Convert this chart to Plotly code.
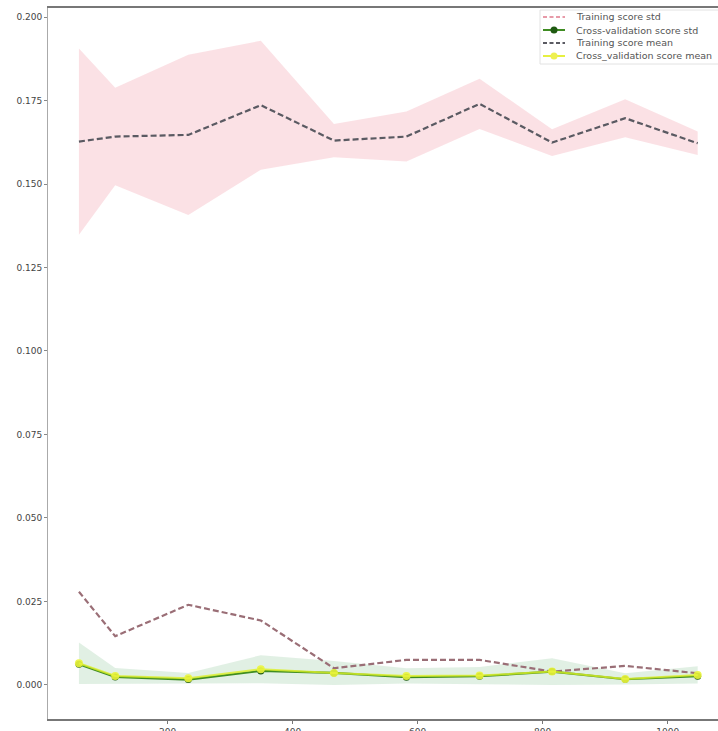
import plotly.graph_objects as go

# Data
train_sizes = [58, 116, 233, 349, 466, 582, 699, 815, 932, 1048]
train_mean = [0.1627, 0.1642, 0.1647, 0.1736, 0.1630, 0.1642, 0.1740, 0.1624, 0.1697, 0.1622]
train_std = [0.0279, 0.0146, 0.0240, 0.0193, 0.0050, 0.0075, 0.0075, 0.0040, 0.0057, 0.0035]
cv_mean = [0.0065, 0.0027, 0.0020, 0.0047, 0.0036, 0.0027, 0.0028, 0.0040, 0.0018, 0.0030]
cv_std = [0.0062, 0.0024, 0.0016, 0.0042, 0.0036, 0.0023, 0.0026, 0.0040, 0.0017, 0.0026]

y_ticks = [0.0, 0.025, 0.05, 0.075, 0.1, 0.125, 0.15, 0.175, 0.2]
x_ticks = [200, 400, 600, 800, 1000]

legend_labels = ["Training score std", "Cross-validation score std",
                 "Training score mean", "Cross_validation score mean"]

train_hi = [m + s for m, s in zip(train_mean, train_std)]
train_lo = [m - s for m, s in zip(train_mean, train_std)]
cv_hi = [m + s for m, s in zip(cv_mean, cv_std)]
cv_lo = [m - s for m, s in zip(cv_mean, cv_std)]

C_STD = "#9a6e76"
C_STD_LEG = "#e79aa8"
C_CVSTD = "#3f8c22"
C_CVSTD_M = "#1f5a12"
C_MEAN = "#5a5a62"
C_CVMEAN = "rgba(220,240,40,0.8)"
C_CVMEAN_M = "rgba(235,245,60,0.9)"
DASH = "6px,3px"

fig = go.Figure()

# Bands
fig.add_trace(go.Scatter(x=train_sizes, y=train_hi, mode="lines", line=dict(width=0),
                         showlegend=False, hoverinfo="skip"))
fig.add_trace(go.Scatter(x=train_sizes, y=train_lo, mode="lines", line=dict(width=0),
                         fill="tonexty", fillcolor="rgba(248,200,208,0.55)",
                         showlegend=False, hoverinfo="skip"))
fig.add_trace(go.Scatter(x=train_sizes, y=cv_hi, mode="lines", line=dict(width=0),
                         showlegend=False, hoverinfo="skip"))
fig.add_trace(go.Scatter(x=train_sizes, y=cv_lo, mode="lines", line=dict(width=0),
                         fill="tonexty", fillcolor="rgba(200,228,205,0.55)",
                         showlegend=False, hoverinfo="skip"))

# Lines
fig.add_trace(go.Scatter(x=train_sizes, y=train_std, mode="lines", name=legend_labels[0],
                         showlegend=False,
                         line=dict(color=C_STD, width=2.2, dash=DASH)))
fig.add_trace(go.Scatter(x=train_sizes, y=cv_std, mode="lines+markers", name=legend_labels[1],
                         showlegend=False,
                         line=dict(color=C_CVSTD, width=2.2),
                         marker=dict(color=C_CVSTD_M, size=7)))
fig.add_trace(go.Scatter(x=train_sizes, y=train_mean, mode="lines", name=legend_labels[2],
                         showlegend=False,
                         line=dict(color=C_MEAN, width=2.2, dash=DASH)))
fig.add_trace(go.Scatter(x=train_sizes, y=cv_mean, mode="lines+markers", name=legend_labels[3],
                         showlegend=False,
                         line=dict(color=C_CVMEAN, width=2),
                         marker=dict(color=C_CVMEAN_M, size=8)))

# Compact legend (matplotlib style) built from shapes + text
L, T, W, H = 48, 8, 670, 711
def px_x(p):
    return (p - L) / W
def px_y(p):
    return (T + H - p) / H

shapes = [dict(type="rect", xref="paper", yref="paper",
               x0=px_x(540), x1=px_x(760), y0=px_y(64), y1=px_y(10),
               line=dict(color="#e2e2e2", width=1), fillcolor="rgba(255,255,255,0.92)")]
annotations = []
leg_styles = [(C_STD_LEG, "dash", None), (C_CVSTD, "solid", C_CVSTD_M),
              (C_MEAN, "dash", None), ("#e6f040", "solid", "#eef050")]
row_y = [17, 30, 43, 56]
for lab, (col, dash, mcol), ry in zip(legend_labels, leg_styles, row_y):
    shapes.append(dict(type="line", xref="paper", yref="paper",
                       x0=px_x(543), x1=px_x(565), y0=px_y(ry), y1=px_y(ry),
                       line=dict(color=col, width=2, dash="4px,2.5px" if dash == "dash" else "solid")))
    if mcol:
        shapes.append(dict(type="circle", xref="paper", yref="paper",
                           xsizemode="pixel", ysizemode="pixel",
                           xanchor=px_x(554), yanchor=px_y(ry),
                           x0=-3.5, x1=3.5, y0=-3.5, y1=3.5,
                           line=dict(color=mcol, width=0), fillcolor=mcol))
    annotations.append(dict(xref="paper", yref="paper", x=px_x(574), y=px_y(ry),
                            xanchor="left", yanchor="middle", text=lab, showarrow=False,
                            font=dict(family="DejaVu Sans", size=9.5, color="#555")))

fig.update_layout(
    width=718, height=731,
    margin=dict(l=L, r=0, t=T, b=731 - T - H),
    paper_bgcolor="white", plot_bgcolor="white",
    font=dict(family="DejaVu Sans", size=9, color="#444"),
    showlegend=False,
    shapes=shapes, annotations=annotations,
    xaxis=dict(range=[8.5, 1080.5], tickvals=x_ticks, ticktext=[str(v) for v in x_ticks],
               showgrid=False, zeroline=False, showline=True, linecolor="#777", linewidth=1.5,
               mirror=True, ticks="outside", ticklen=3, tickcolor="#777",
               automargin=False, tickfont=dict(size=9, color="#444")),
    yaxis=dict(range=[-0.0102, 0.2027], tickvals=y_ticks, ticktext=[f"{v:.3f}" for v in y_ticks],
               showgrid=False, zeroline=False, showline=True, linecolor="#aaa", linewidth=1,
               mirror=False, ticks="outside", ticklen=3, tickcolor="#888",
               automargin=False, tickfont=dict(size=9, color="#444")),
)

fig.write_html("out.html")
